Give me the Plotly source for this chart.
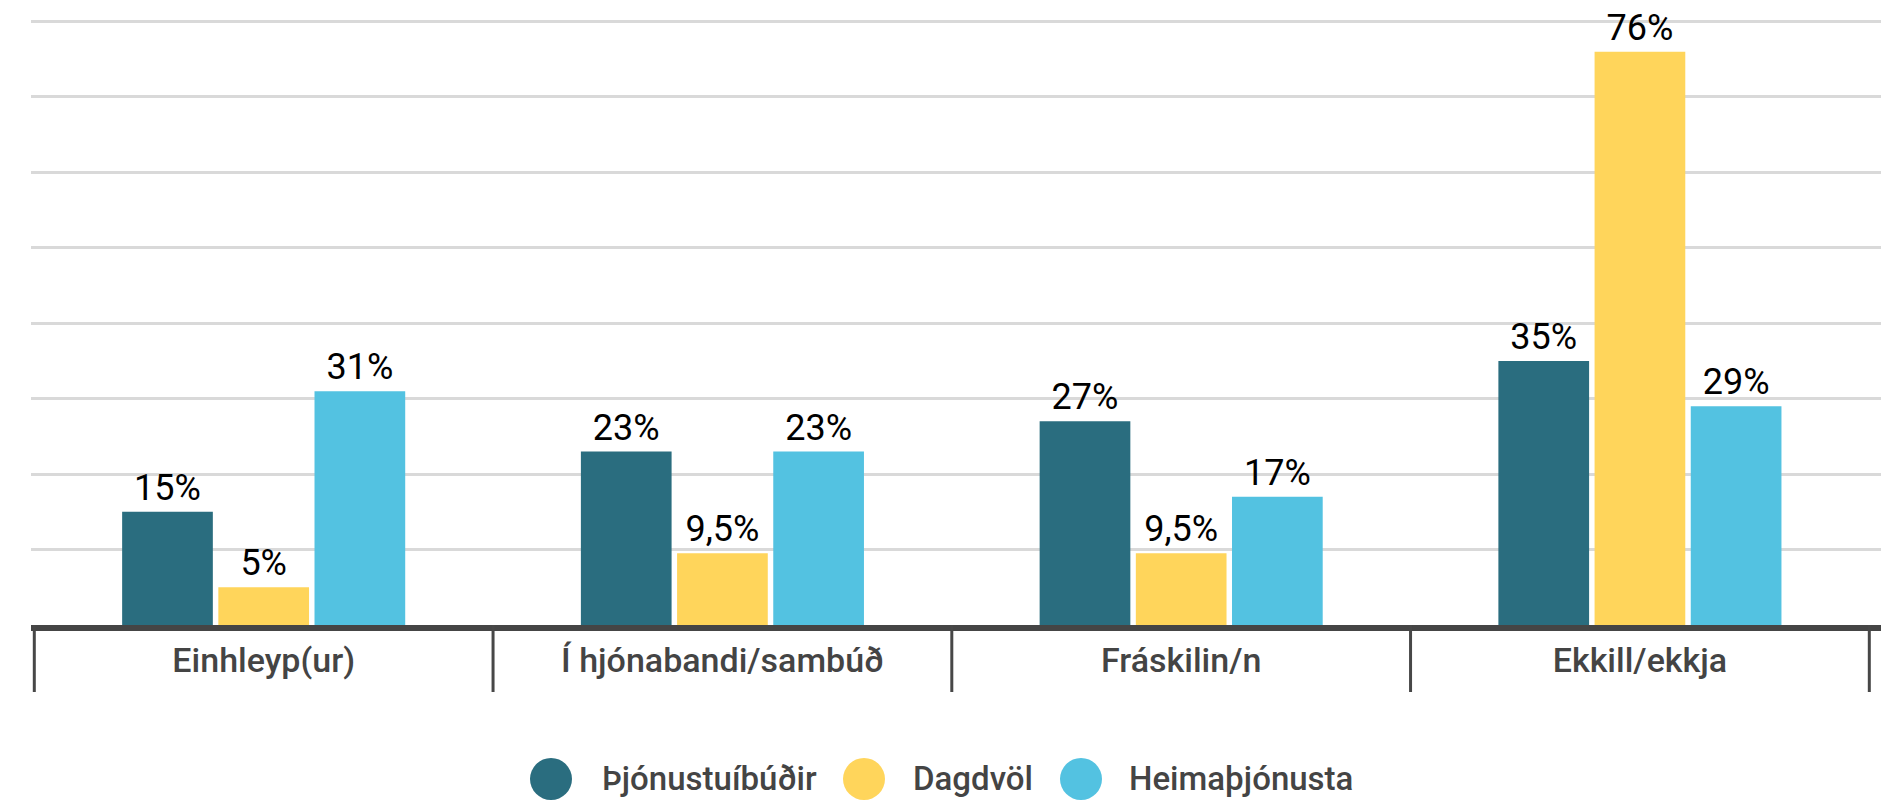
import plotly.graph_objects as go

categories = ["Einhleyp(ur)", "Í hjónabandi/sambúð", "Fráskilin/n", "Ekkill/ekkja"]
series_names = ["Þjónustuíbúðir", "Dagdvöl", "Heimaþjónusta"]
thjonustuibudir = [15, 23, 27, 35]
dagdvol = [5, 9.5, 9.5, 76]
heimathjonusta = [31, 23, 17, 29]
colors = ["#2a6d7f", "#ffd55b", "#53c2e1"]

series_values = [thjonustuibudir, dagdvol, heimathjonusta]

W, H = 1881, 804
ML, MR, MT, MB = 31, 0, 20, 179
plot_w = W - ML - MR
plot_h = H - MT - MB

FONT = "Roboto, Arial, sans-serif"

fig = go.Figure()
for name, vals, col in zip(series_names, series_values, colors):
    fig.add_trace(go.Bar(
        x=categories, y=vals, name=name, marker=dict(color=col, line=dict(width=0)),
        texttemplate="%{y}%", textposition="outside",
        textfont=dict(family=FONT, size=36, color="#000000"),
        cliponaxis=False, showlegend=False, hoverinfo="skip",
    ))

shapes = []
# category boundary ticks
tick_len = 64
for i in range(len(categories) + 1):
    shapes.append(dict(type="line", xref="x", yref="paper",
                       x0=i - 0.5, x1=i - 0.5, y0=0, y1=-(tick_len + 3) / plot_h,
                       line=dict(color="#474747", width=3), layer="above"))

# manual legend with circles
legend_circle_x = [551, 864, 1081]
legend_text_x = [600, 911, 1127]
legend_y = 779
annotations = []
for name, col, cx, tx in zip(series_names, colors, legend_circle_x, legend_text_x):
    px = (cx - ML) / plot_w
    py = (H - MB - legend_y) / plot_h
    shapes.append(dict(type="circle", xref="paper", yref="paper",
                       xsizemode="pixel", ysizemode="pixel",
                       xanchor=px, yanchor=py, x0=-21, x1=21, y0=-21, y1=21,
                       fillcolor=col, line=dict(width=0)))
    annotations.append(dict(xref="paper", yref="paper", x=(tx - ML) / plot_w, y=py,
                            xanchor="left", yanchor="middle", showarrow=False,
                            text=name, font=dict(family=FONT, size=33, color="#444444", weight=500)))

fig.update_layout(
    width=W, height=H,
    margin=dict(l=ML, r=MR, t=MT, b=MB, pad=0),
    paper_bgcolor="white", plot_bgcolor="white",
    barmode="group", bargap=0.371, bargroupgap=0.057,
    separators=",.",
    font=dict(family=FONT, color="#444444"),
    showlegend=False,
    shapes=shapes, annotations=annotations,
    xaxis=dict(
        range=[-0.5072, 3.5255], showgrid=False, zeroline=False,
        showline=True, linecolor="#454545", linewidth=6,
        ticks="", tickfont=dict(family=FONT, size=34, color="#444444", weight=500),
        fixedrange=True, automargin=False,
    ),
    yaxis=dict(
        range=[0, 80.2], tickvals=[10, 20, 30, 40, 50, 60, 70, 80],
        showgrid=True, gridcolor="#d9d9d9", gridwidth=3,
        zeroline=False, showticklabels=False, showline=False, fixedrange=True,
        automargin=False,
    ),
)

fig.write_html("out.html", config={"displayModeBar": False},
               post_script="document.body.style.margin='0';document.body.style.overflow='hidden';")
